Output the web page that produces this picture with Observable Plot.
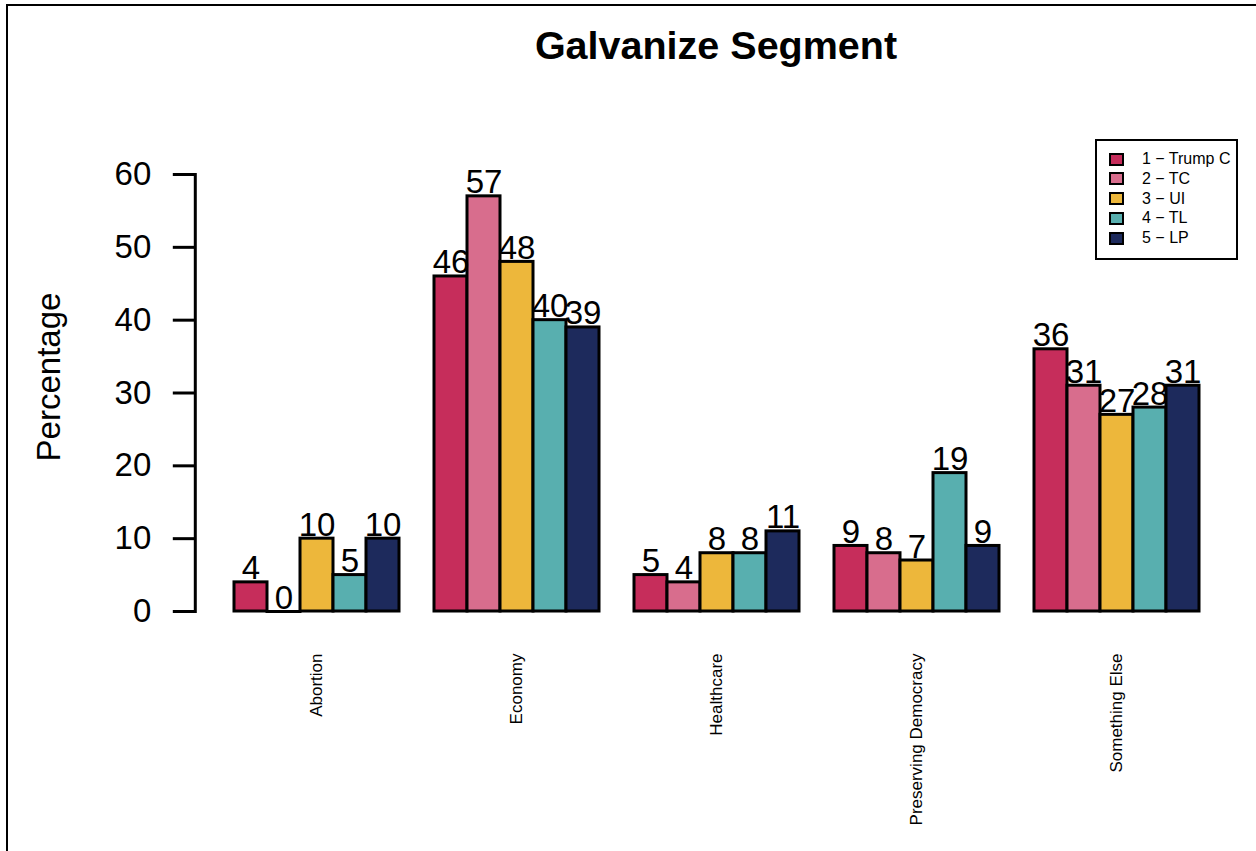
<!DOCTYPE html>
<html>
<head>
<meta charset="utf-8">
<script src="https://cdn.jsdelivr.net/npm/d3@7"></script>
<script src="https://cdn.jsdelivr.net/npm/@observablehq/plot@0.6"></script>
<style>
  html, body { margin: 0; padding: 0; background: #fff; }
  body { font-family: "Liberation Sans", Arial, sans-serif; color: #000; }
  #wrap { position: relative; width: 1256px; height: 851px; overflow: hidden; }
  #border { position: absolute; left: 6px; top: 4px; right: -10px; bottom: -10px; border-left: 2px solid #000; border-top: 2px solid #000; }
  #title { position: absolute; left: 416px; width: 600px; top: 26px; text-align: center; font-size: 39.5px; line-height: 1; font-weight: bold; }
  #ylab { position: absolute; left: 48px; top: 377px; transform: translate(-50%, -50%) rotate(-90deg); font-size: 33px; line-height: 1; white-space: nowrap; }
  #chart { position: absolute; left: 0; top: 106px; }
  #legend { position: absolute; left: 1095px; top: 139px; width: 139px; height: 117px; border: 2px solid #000; box-sizing: content-box; }
  .item { position: absolute; left: 12px; height: 20px; display: flex; align-items: center; font-size: 16px; white-space: nowrap; }
  .sw { width: 11px; height: 9px; border: 2px solid #000; margin-right: 18px; }
</style>
</head>
<body>
<div id="wrap">
  <div id="border"></div>
  <div id="title">Galvanize Segment</div>
  <div id="ylab">Percentage</div>
  <div id="chart"></div>
  <div id="legend"></div>
</div>
<script>
const categories = ["Abortion", "Economy", "Healthcare", "Preserving Democracy", "Something Else"];
const series = ["1 \u2212 Trump C", "2 \u2212 TC", "3 \u2212 UI", "4 \u2212 TL", "5 \u2212 LP"];
const colors = ["#C62D5B", "#D86D8D", "#EDB73B", "#58AFAF", "#1D2A5C"];
const trumpC = [4, 46, 5, 9, 36];
const tc = [0, 57, 4, 8, 31];
const ui = [10, 48, 8, 7, 27];
const tl = [5, 40, 8, 19, 28];
const lp = [10, 39, 11, 9, 31];
const yTicks = [0, 10, 20, 30, 40, 50, 60];

const values = [trumpC, tc, ui, tl, lp];
const rows = [];
categories.forEach((c, i) => series.forEach((s, j) => rows.push({category: c, series: s, value: values[j][i]})));

const axisShift = -38.2;

const plot = Plot.plot({
  width: 1256,
  height: 745,
  marginTop: 68,
  marginBottom: 240,
  marginLeft: 193,
  marginRight: 16,
  style: {fontFamily: "'Liberation Sans', Arial, sans-serif", color: "black", background: "transparent", overflow: "visible"},
  fx: {domain: categories, paddingInner: 0.1667, paddingOuter: 0.19, label: null, axis: null},
  x: {domain: series, padding: 0, axis: null},
  y: {domain: [0, 60], label: null, axis: null},
  color: {domain: series, range: colors},
  marks: [
    Plot.barY(rows, {fx: "category", x: "series", y: "value", fill: "series", stroke: "black", strokeWidth: 3, inset: 0}),
    Plot.tickY(rows.filter(d => d.value === 0), {fx: "category", x: "series", y: "value", stroke: "black", strokeWidth: 3, strokeLinecap: "square"}),
    Plot.text(rows, {fx: "category", x: "series", y: "value", text: d => String(d.value), lineAnchor: "bottom", dy: -3, fontSize: 33, fill: "black"}),
    Plot.axisY({ticks: yTicks, tickSize: 22, tickPadding: 22, fontSize: 33, strokeWidth: 3, label: null, dx: axisShift}),
    Plot.frame({facetAnchor: "left", anchor: "left", strokeWidth: 3, dx: axisShift}),
    Plot.axisFx({anchor: "bottom", tickSize: 0, tickPadding: 42, tickRotate: -90, fontSize: 17, label: null, textAnchor: "end", lineAnchor: "middle"})
  ]
});
document.getElementById("chart").appendChild(plot);

const legend = document.getElementById("legend");
series.forEach((s, i) => {
  const item = document.createElement("div");
  item.className = "item";
  item.style.top = (8 + i * 19.75) + "px";
  const sw = document.createElement("div");
  sw.className = "sw";
  sw.style.background = colors[i];
  item.appendChild(sw);
  const t = document.createElement("span");
  t.textContent = s;
  item.appendChild(t);
  legend.appendChild(item);
});
</script>
</body>
</html>
